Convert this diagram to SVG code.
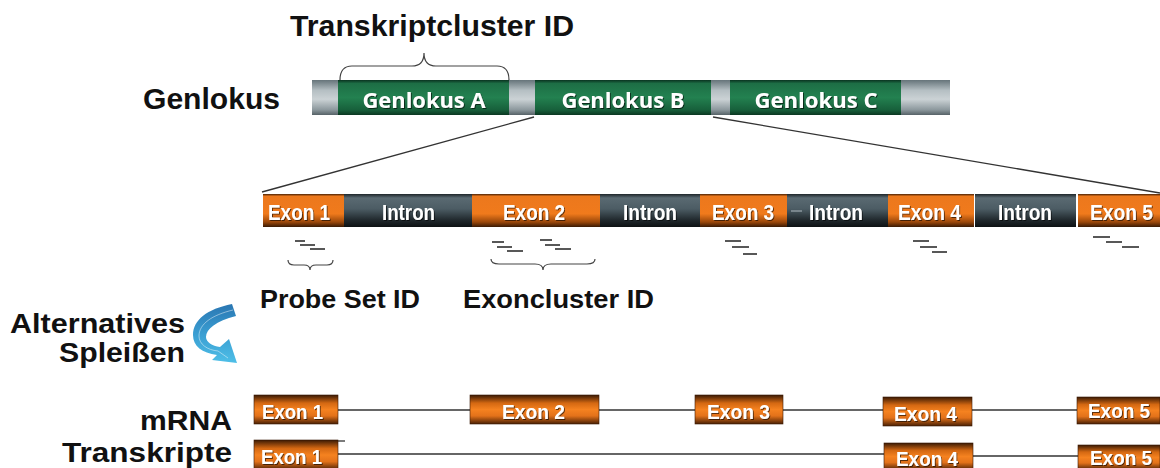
<svg xmlns="http://www.w3.org/2000/svg" width="1160" height="468" viewBox="0 0 1160 468">
<defs>
<linearGradient id="gGreen" x1="0" y1="0" x2="0" y2="1">
<stop offset="0" stop-color="#0a3320"/><stop offset="0.1" stop-color="#1d6e45"/><stop offset="0.5" stop-color="#238150"/><stop offset="0.85" stop-color="#17603b"/><stop offset="1" stop-color="#0b3822"/>
</linearGradient>
<linearGradient id="gGrey" x1="0" y1="0" x2="0" y2="1">
<stop offset="0" stop-color="#66747a"/><stop offset="0.3" stop-color="#b5bfc3"/><stop offset="0.55" stop-color="#cbd2d5"/><stop offset="0.85" stop-color="#8c989d"/><stop offset="1" stop-color="#566267"/>
</linearGradient>
<linearGradient id="gExonBar" x1="0" y1="0" x2="0" y2="1">
<stop offset="0" stop-color="#4a2206"/><stop offset="0.07" stop-color="#ec781d"/><stop offset="0.6" stop-color="#f07a1c"/><stop offset="0.85" stop-color="#9a470a"/><stop offset="1" stop-color="#3a1a04"/>
</linearGradient>
<linearGradient id="gIntron" x1="0" y1="0" x2="0" y2="1">
<stop offset="0" stop-color="#1e262a"/><stop offset="0.12" stop-color="#5a6a72"/><stop offset="0.45" stop-color="#4c5c64"/><stop offset="0.8" stop-color="#1f272b"/><stop offset="1" stop-color="#0d1113"/>
</linearGradient>
<linearGradient id="gExonBox" x1="0" y1="0" x2="0" y2="1">
<stop offset="0" stop-color="#3a1a04"/><stop offset="0.28" stop-color="#d46812"/><stop offset="0.5" stop-color="#f58220"/><stop offset="0.72" stop-color="#e3721a"/><stop offset="1" stop-color="#4a2004"/>
</linearGradient>
<linearGradient id="gArrow" gradientUnits="userSpaceOnUse" x1="0" y1="304" x2="0" y2="364">
<stop offset="0" stop-color="#2a76b2"/><stop offset="0.5" stop-color="#3a9ed2"/><stop offset="1" stop-color="#4fc0e8"/>
</linearGradient>
<filter id="sh" x="-10%" y="-20%" width="130%" height="150%">
<feDropShadow dx="1" dy="1" stdDeviation="0.4" flood-color="#000" flood-opacity="0.6"/>
</filter>
</defs>
<style>
.lbl{font-family:"Liberation Sans",Arial,sans-serif;font-weight:bold;fill:#111;}
.gl{font-family:"Open Sans","Liberation Sans",sans-serif;font-weight:bold;fill:#fff;font-size:21px;}
.ex{font-family:"Liberation Sans",Arial,sans-serif;font-weight:bold;fill:#fff;font-size:22px;}
.exs{font-family:"Liberation Sans",Arial,sans-serif;font-weight:bold;fill:#fff;font-size:21px;}
.ln{stroke:#333;stroke-width:1.3;fill:none;}
.pr{stroke:#222;stroke-width:1.6;fill:none;}
.br{stroke:#444;stroke-width:1.2;fill:none;}
.eb{fill:url(#gExonBox);stroke:#3a1a04;stroke-width:0.6;}
</style>

<!-- Titles / labels -->
<g id="title">
<text class="lbl" x="290" y="36" font-size="30" textLength="284" lengthAdjust="spacingAndGlyphs">Transkriptcluster ID</text>
<path class="br" d="M 340 80 Q 340 66 352 66 L 412 66 Q 424 66 424 53 Q 424 66 436 66 L 497 66 Q 509 66 509 80"/>
</g>
<g id="label-genlokus"><text class="lbl" x="143" y="109" font-size="29" textLength="137" lengthAdjust="spacingAndGlyphs">Genlokus</text></g>

<!-- Connectors -->
<g id="connectors">
<line class="ln" x1="534" y1="117" x2="262" y2="192"/>
<line class="ln" x1="713" y1="117" x2="1160" y2="193"/>
<line class="ln" x1="338" y1="410" x2="470" y2="410"/>
<line class="ln" x1="599" y1="410" x2="695" y2="410"/>
<line class="ln" x1="783" y1="410" x2="883" y2="410"/>
<line class="ln" x1="972" y1="410" x2="1077" y2="410"/>
<line class="ln" x1="338" y1="454" x2="884" y2="454"/>
<line class="ln" x1="973" y1="456" x2="1078" y2="456"/>
<line class="ln" x1="338" y1="441" x2="345" y2="441"/>
</g>

<!-- Genlokus bar -->
<g id="genlokus-bar">
<rect x="312" y="80" width="26" height="35" fill="url(#gGrey)"/>
<rect x="509" y="80" width="26" height="35" fill="url(#gGrey)"/>
<rect x="711" y="80" width="19" height="35" fill="url(#gGrey)"/>
<rect x="901" y="80" width="49" height="35" fill="url(#gGrey)"/>
</g>
<g id="genlokus-a">
<rect x="338" y="80" width="171" height="35" fill="url(#gGreen)"/>
<text class="gl" x="424" y="108" text-anchor="middle" textLength="123" lengthAdjust="spacingAndGlyphs" filter="url(#sh)">Genlokus A</text>
</g>
<g id="genlokus-b">
<rect x="535" y="80" width="176" height="35" fill="url(#gGreen)"/>
<text class="gl" x="623" y="108" text-anchor="middle" textLength="123" lengthAdjust="spacingAndGlyphs" filter="url(#sh)">Genlokus B</text>
</g>
<g id="genlokus-c">
<rect x="730" y="80" width="171" height="35" fill="url(#gGreen)"/>
<text class="gl" x="816" y="108" text-anchor="middle" textLength="123" lengthAdjust="spacingAndGlyphs" filter="url(#sh)">Genlokus C</text>
</g>

<!-- Gene structure bar -->
<g id="gene-exon1"><rect x="263" y="194" width="81" height="33" fill="url(#gExonBar)"/><text class="ex" x="268" y="220" textLength="62" lengthAdjust="spacingAndGlyphs" filter="url(#sh)">Exon 1</text></g>
<g id="gene-intron1"><rect x="344" y="194" width="128" height="33" fill="url(#gIntron)"/><text class="ex" x="382" y="220" textLength="53" lengthAdjust="spacingAndGlyphs" filter="url(#sh)">Intron</text></g>
<g id="gene-exon2"><rect x="472" y="194" width="128" height="33" fill="url(#gExonBar)"/><text class="ex" x="503" y="220" textLength="62" lengthAdjust="spacingAndGlyphs" filter="url(#sh)">Exon 2</text></g>
<g id="gene-intron2"><rect x="600" y="194" width="100" height="33" fill="url(#gIntron)"/><text class="ex" x="623" y="220" textLength="54" lengthAdjust="spacingAndGlyphs" filter="url(#sh)">Intron</text></g>
<g id="gene-exon3"><rect x="700" y="194" width="87" height="33" fill="url(#gExonBar)"/><text class="ex" x="712" y="220" textLength="62" lengthAdjust="spacingAndGlyphs" filter="url(#sh)">Exon 3</text></g>
<g id="gene-intron3"><rect x="787" y="194" width="101" height="33" fill="url(#gIntron)"/><line x1="791" y1="211" x2="802" y2="211" stroke="#8a969c" stroke-width="1.5"/><text class="ex" x="809" y="220" textLength="54" lengthAdjust="spacingAndGlyphs" filter="url(#sh)">Intron</text></g>
<g id="gene-exon4"><rect x="888" y="194" width="86" height="33" fill="url(#gExonBar)"/><text class="ex" x="898" y="220" textLength="63" lengthAdjust="spacingAndGlyphs" filter="url(#sh)">Exon 4</text></g>
<g id="gene-intron4"><rect x="975" y="194" width="101" height="33" fill="url(#gIntron)"/><text class="ex" x="998" y="220" textLength="54" lengthAdjust="spacingAndGlyphs" filter="url(#sh)">Intron</text></g>
<g id="gene-exon5"><rect x="1078" y="194" width="82" height="33" fill="url(#gExonBar)"/><text class="ex" x="1090" y="220" textLength="63" lengthAdjust="spacingAndGlyphs" filter="url(#sh)">Exon 5</text></g>

<!-- Probes -->
<g id="probes">
<path class="pr" d="M295 241 H305 M300 245 H315 M310 249 H325"/>
<path class="pr" d="M492 242 H504 M497 247 H512 M507 251 H523"/>
<path class="pr" d="M540 240 H552 M545 245 H560 M555 249 H571"/>
<path class="pr" d="M725 241 H741 M732 247 H749 M743 254 H757"/>
<path class="pr" d="M913 241 H929 M920 247 H937 M932 252 H947"/>
<path class="pr" d="M1093 237 H1110 M1106 242 H1122 M1122 247 H1139"/>
</g>

<!-- Probe Set / Exoncluster -->
<g id="probeset">
<path class="br" d="M 288 260 Q 288 265 294 265 L 304 265 Q 310 265 310 270 Q 310 265 316 265 L 327 265 Q 333 265 333 260"/>
<text class="lbl" x="260" y="308" font-size="26" textLength="160" lengthAdjust="spacingAndGlyphs">Probe Set ID</text>
</g>
<g id="exoncluster">
<path class="br" d="M 491 259 Q 491 264 499 264 L 535 264 Q 543 264 543 270 Q 543 264 551 264 L 587 264 Q 595 264 595 259"/>
<text class="lbl" x="463" y="308" font-size="26" textLength="191" lengthAdjust="spacingAndGlyphs">Exoncluster ID</text>
</g>

<!-- Alternative splicing -->
<g id="splicing">
<text class="lbl" x="185" y="333" font-size="28" text-anchor="end" textLength="175" lengthAdjust="spacingAndGlyphs">Alternatives</text>
<text class="lbl" x="185" y="362" font-size="28" text-anchor="end" textLength="126" lengthAdjust="spacingAndGlyphs">Spleißen</text>
<path d="M 232 304 L 236 316 C 216 321, 206 329, 206 337 C 206 342, 212 346, 220 347 L 229 339 L 237 363 L 212 360 L 217 355 C 202 353, 193 346, 193 335 C 193 320, 207 309, 232 304 Z" fill="url(#gArrow)"/>
<path d="M 233 310 C 212 315, 199 324, 199 336 C 199 344, 207 350, 218 351 L 228 358" fill="none" stroke="#ffffff" stroke-opacity="0.5" stroke-width="0.9"/>
</g>

<g id="label-mrna">
<text class="lbl" x="232" y="430" font-size="28" text-anchor="end" textLength="92" lengthAdjust="spacingAndGlyphs">mRNA</text>
<text class="lbl" x="232" y="462" font-size="28" text-anchor="end" textLength="170" lengthAdjust="spacingAndGlyphs">Transkripte</text>
</g>

<!-- mRNA transcript 1 -->
<g id="t1-exon1"><rect class="eb" x="254" y="395" width="84" height="29"/><text class="exs" x="262" y="419" textLength="61" lengthAdjust="spacingAndGlyphs" filter="url(#sh)">Exon 1</text></g>
<g id="t1-exon2"><rect class="eb" x="470" y="395" width="129" height="29"/><text class="exs" x="502" y="419" textLength="63" lengthAdjust="spacingAndGlyphs" filter="url(#sh)">Exon 2</text></g>
<g id="t1-exon3"><rect class="eb" x="695" y="395" width="88" height="29"/><text class="exs" x="707" y="419" textLength="63" lengthAdjust="spacingAndGlyphs" filter="url(#sh)">Exon 3</text></g>
<g id="t1-exon4"><rect class="eb" x="883" y="397" width="89" height="29"/><text class="exs" x="894" y="421" textLength="63" lengthAdjust="spacingAndGlyphs" filter="url(#sh)">Exon 4</text></g>
<g id="t1-exon5"><rect class="eb" x="1077" y="397" width="83" height="27"/><text class="exs" x="1088" y="418" textLength="62" lengthAdjust="spacingAndGlyphs" filter="url(#sh)">Exon 5</text></g>

<!-- mRNA transcript 2 -->
<g id="t2-exon1"><rect class="eb" x="254" y="440" width="84" height="30"/><text class="exs" x="261" y="464" textLength="61" lengthAdjust="spacingAndGlyphs" filter="url(#sh)">Exon 1</text></g>
<g id="t2-exon4"><rect class="eb" x="884" y="443" width="89" height="27"/><text class="exs" x="896" y="466" textLength="62" lengthAdjust="spacingAndGlyphs" filter="url(#sh)">Exon 4</text></g>
<g id="t2-exon5"><rect class="eb" x="1078" y="445" width="82" height="25"/><text class="exs" x="1090" y="465" textLength="62" lengthAdjust="spacingAndGlyphs" filter="url(#sh)">Exon 5</text></g>
</svg>
